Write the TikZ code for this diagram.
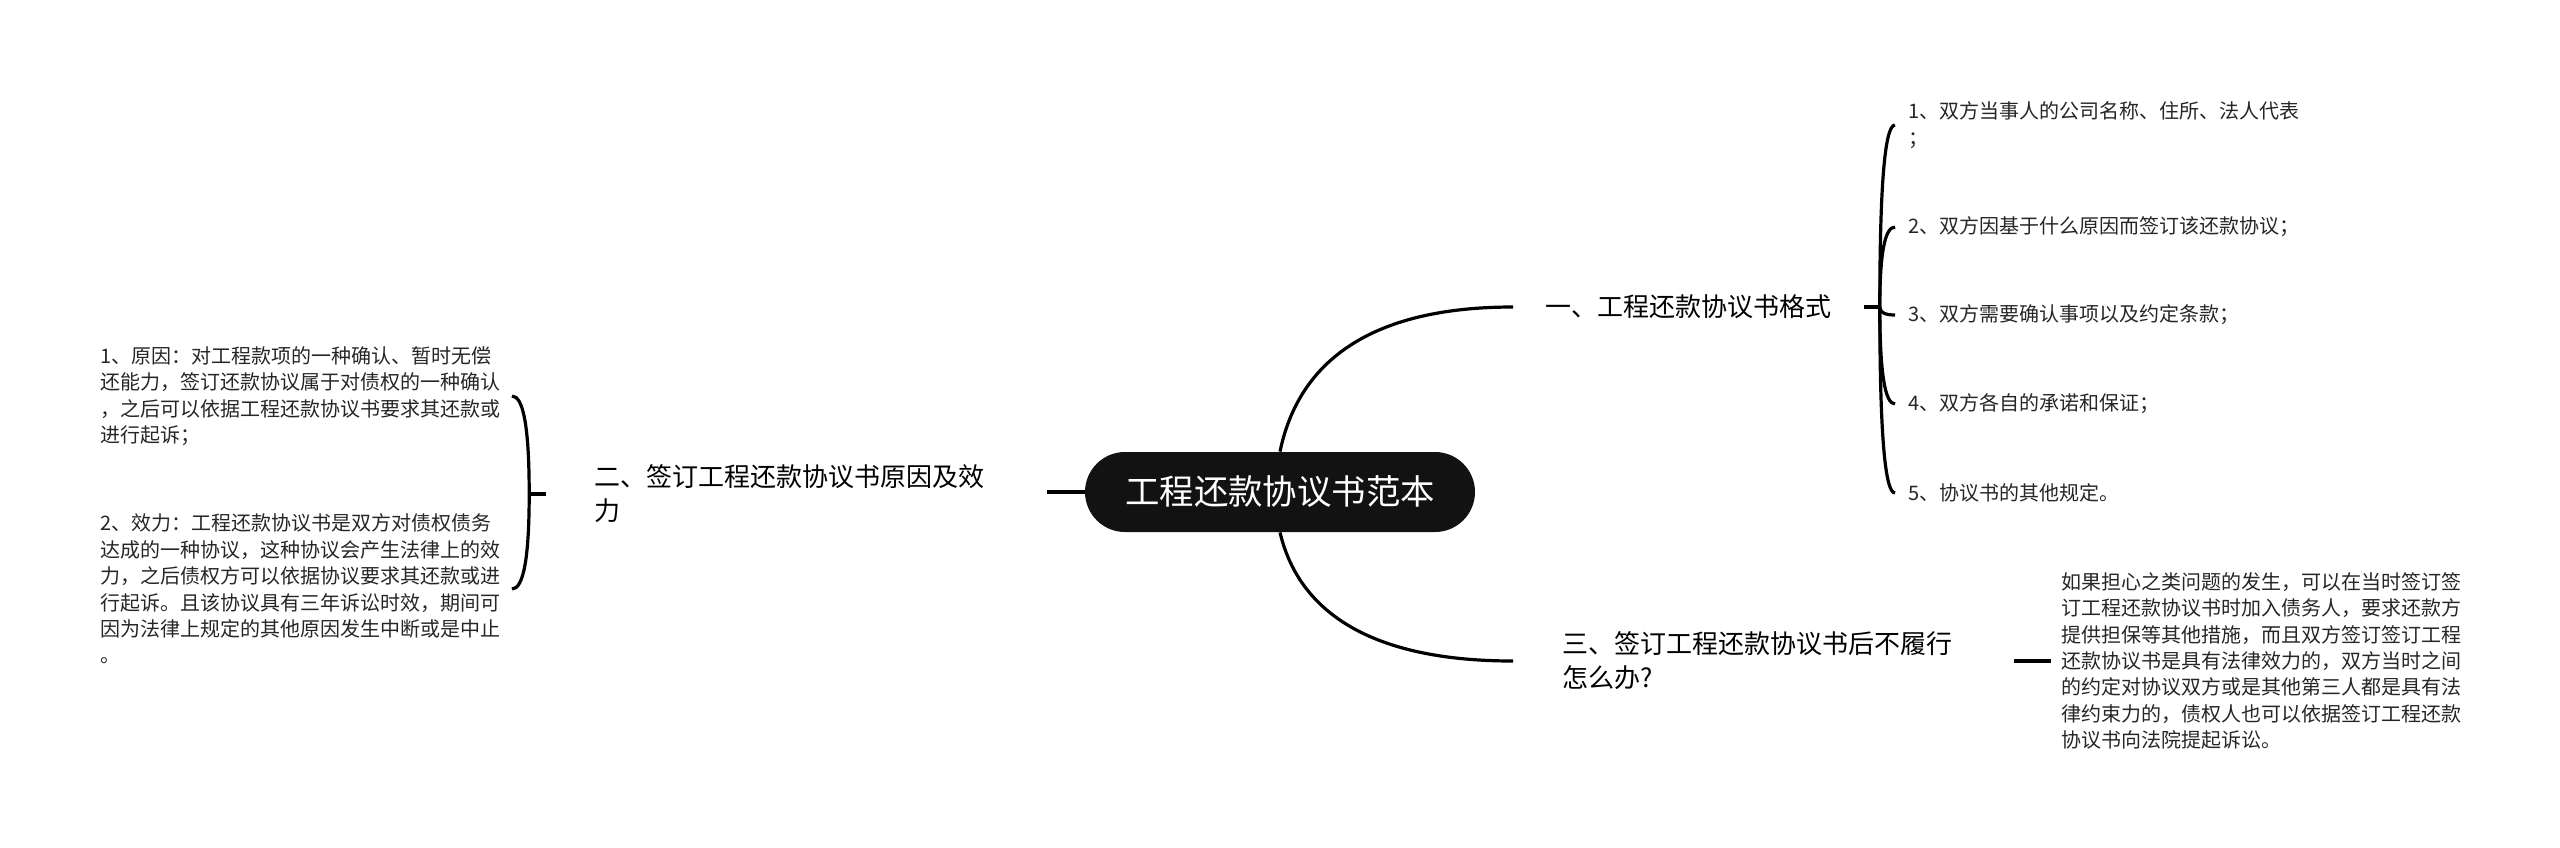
\documentclass[tikz,border=0pt]{standalone}
\usepackage{fontspec}
\setmainfont{Noto Sans CJK SC}
\usetikzlibrary{calc}
\tikzset{
  racine/.style={fill=black!93, text=white, rounded corners=20pt,
    minimum width=195pt, minimum height=40pt,
    font=\fontsize{17.2pt}{20pt}\selectfont},
  branche/.style={inner ysep=0pt, align=left,
    font=\fontsize{13pt}{17pt}\selectfont},
  feuille/.style={inner ysep=0pt, align=left, text=black!85,
    font=\fontsize{10pt}{13.2pt}\selectfont},
  lien/.style={line width=1.6pt},
}
\begin{document}
\begin{tikzpicture}[x=0.5pt, y=-0.5pt]
  \useasboundingbox (0,0) rectangle (2560,847);
  % Noeud central
  \node[racine] (root) at (1280,492) {工程还款协议书范本};
  % Branches principales
  \node[branche, anchor=west, inner xsep=16pt] (t1) at (1513,307)
    {一、工程还款协议书格式};
  \node[branche, anchor=east, text width=202pt, inner xsep=24pt] (t2) at (1047,494)
    {二、签订工程还款协议书原因及效\\力};
  \node[branche, anchor=west, text width=201pt, inner xsep=24.5pt] (t3) at (1513,661)
    {三、签订工程还款协议书后不履行\\怎么办?};
  % Points de la branche un
  \coordinate (b1) at ([xshift=8pt]t1.east);
  \node[feuille, anchor=west, inner xsep=6.5pt] (i1) at (1895,125)
    {1、双方当事人的公司名称、住所、法人代表\\；};
  \node[feuille, anchor=west, inner xsep=6.5pt] (i2) at (1895,227)
    {2、双方因基于什么原因而签订该还款协议；};
  \node[feuille, anchor=west, inner xsep=6.5pt] (i3) at (1895,315)
    {3、双方需要确认事项以及约定条款；};
  \node[feuille, anchor=west, inner xsep=6.5pt] (i4) at (1895,404)
    {4、双方各自的承诺和保证；};
  \node[feuille, anchor=west, inner xsep=6.5pt] (i5) at (1895,493)
    {5、协议书的其他规定。};
  % Points de la branche deux
  \coordinate (b2) at ([xshift=-8.5pt]t2.west);
  \node[feuille, anchor=east, inner xsep=5.5pt] (l1) at (512,396)
    {1、原因：对工程款项的一种确认、暂时无偿\\
     还能力，签订还款协议属于对债权的一种确认\\
     ，之后可以依据工程还款协议书要求其还款或\\
     进行起诉；};
  \node[feuille, anchor=east, inner xsep=5.5pt] (l2) at (512,589)
    {2、效力：工程还款协议书是双方对债权债务\\
     达成的一种协议，这种协议会产生法律上的效\\
     力，之后债权方可以依据协议要求其还款或进\\
     行起诉。且该协议具有三年诉讼时效，期间可\\
     因为法律上规定的其他原因发生中断或是中止\\
     。};
  % Point de la branche trois
  \node[feuille, anchor=west, inner xsep=5pt] (d3) at ([xshift=18.5pt]t3.east)
    {如果担心之类问题的发生，可以在当时签订签\\
     订工程还款协议书时加入债务人，要求还款方\\
     提供担保等其他措施，而且双方签订签订工程\\
     还款协议书是具有法律效力的，双方当时之间\\
     的约定对协议双方或是其他第三人都是具有法\\
     律约束力的，债权人也可以依据签订工程还款\\
     协议书向法院提起诉讼。};
  % Liens
  \draw[lien] (root.north) .. controls +(17,-82) and +(-153,0) .. (t1.west);
  \draw[lien] (root.south) .. controls +(17,72) and +(-153,0) .. (t3.west);
  \draw[lien] (root.west) -- (root.west -| t2.east);
  \draw[lien] (t1.east) -- (b1);
  \foreach \i in {1,...,5}
    \draw[lien] (b1) .. controls ($(b1)!.67!(b1 |- i\i.west)$)
      and ($(i\i.west)!.67!(b1 |- i\i.west)$) .. (i\i.west);
  \draw[lien] (t2.west) -- (b2);
  \foreach \i in {1,2}
    \draw[lien] (b2) .. controls ($(b2)!.67!(b2 |- l\i.east)$)
      and ($(l\i.east)!.67!(b2 |- l\i.east)$) .. (l\i.east);
  \draw[lien] (t3.east) -- (d3.west);
\end{tikzpicture}
\end{document}
